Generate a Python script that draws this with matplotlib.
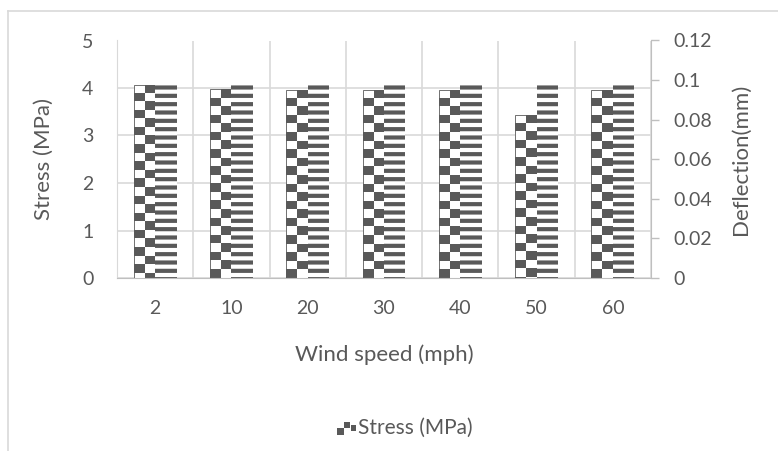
import numpy as np
import matplotlib.pyplot as plt
from matplotlib.lines import Line2D
from matplotlib.patches import Rectangle
from matplotlib.colors import ListedColormap
from matplotlib.legend_handler import HandlerBase

plt.rcParams['font.family'] = ['Lato', 'DejaVu Sans']
plt.rcParams['hatch.linewidth'] = 3.0

# данні
speeds = ['2', '10', '20', '30', '40', '50', '60']
stress = [4.07, 3.97, 3.96, 3.96, 3.96, 3.44, 3.96]
deflection = [0.0988, 0.0988, 0.0988, 0.0988, 0.0988, 0.0988, 0.0988]

dark = '#595959'
grid = '#d9d9d9'
txt = '#595959'

fig = plt.figure(figsize=(7.78, 4.51), dpi=100)
# рамка області діаграми
fig.add_artist(Line2D([8 / 778, 1], [1 - 11 / 451] * 2, color=grid, lw=1.2))
fig.add_artist(Line2D([8 / 778] * 2, [0, 1 - 11 / 451], color=grid, lw=1.2))

ax = fig.add_axes([117 / 778, 1 - 278 / 451, (651 - 117) / 778, (278 - 40.5) / 451])
ax2 = ax.twinx()

x = np.arange(len(speeds))
w = 0.28

bars = ax.bar(x - w / 2, stress, w, color='white', linewidth=0, zorder=2)
cell = 0.18
cmap = ListedColormap(['white', dark])
for b in bars:
    x0, h = b.get_x(), b.get_height()
    n = int(np.ceil(h / cell))
    checker = (np.indices((n, 2)).sum(axis=0) % 2)[::-1]
    im = ax.imshow(checker, extent=(x0, x0 + w, h - n * cell, h), origin='lower',
                   cmap=cmap, interpolation='nearest', aspect='auto', zorder=2.5)
    im.set_clip_path(b)
# тонкий контур стовпчиків
ax.bar(x - w / 2, stress, w, fill=False, edgecolor=dark, linewidth=0.6, zorder=3)

ax2.bar(x + w / 2, deflection, w, color='white', edgecolor=dark, hatch='--', linewidth=0)

ax.set_xlim(-0.5, len(speeds) - 0.5)
ax.set_ylim(0, 5)
ax2.set_ylim(0, 0.12)
ax.set_yticks(np.arange(0, 6, 1))
ax2.set_yticks(np.arange(0, 0.13, 0.02))
ax2.set_yticklabels(['0', '0.02', '0.04', '0.06', '0.08', '0.1', '0.12'])
ax.set_xticks(x)
ax.set_xticklabels(speeds)
ax.set_xticks(np.arange(-0.5, len(speeds), 1), minor=True)

ax.set_axisbelow(True)
ax.grid(axis='y', color=grid, lw=1.2)
ax.grid(axis='x', which='minor', color=grid, lw=1.2)

for a in (ax, ax2):
    for s in a.spines.values():
        s.set_visible(False)
ax.spines['bottom'].set_visible(True)
ax.spines['bottom'].set_color('#bfbfbf')
ax.spines['left'].set_visible(True)
ax.spines['left'].set_color(grid)
ax2.spines['right'].set_visible(True)
ax2.spines['right'].set_color('#bfbfbf')

ax.tick_params(axis='y', length=0, pad=17, labelsize=14, labelcolor=txt)
ax.tick_params(axis='x', which='both', length=0, pad=15.5, labelsize=14, labelcolor=txt)
ax2.tick_params(axis='y', length=6, width=1, color='#bfbfbf', pad=10, labelsize=14, labelcolor=txt)

ax.set_ylabel('Stress (MPa)', fontsize=16, color=txt)
ax.yaxis.set_label_coords(-0.118, 0.5)
ax.set_xlabel('Wind speed (mph)', fontsize=16, color=txt)
ax.xaxis.set_label_coords(0.5, -0.28)
ax2.set_ylabel('Deflection(mm)', fontsize=16, color=txt)
ax2.yaxis.set_label_coords(1.15, 0.5)


class CheckerHandler(HandlerBase):
    def create_artists(self, legend, orig, xd, yd, width, height, fontsize, trans):
        arts = []
        s = height / 2
        for i in range(2):
            for j in range(2):
                if (i + j) % 2 == 0:
                    arts.append(Rectangle((xd + i * s, yd + j * s), s, s,
                                          facecolor=dark, lw=0, transform=trans))
        arts.append(Rectangle((xd + 2 * s, yd + s * 0.6), s * 0.9, s * 0.8,
                              facecolor=dark, lw=0, transform=trans))
        return arts


proxy = Rectangle((0, 0), 1, 1)
fig.legend([proxy], ['Stress (MPa)'], handler_map={Rectangle: CheckerHandler()},
           loc='center', bbox_to_anchor=(405 / 778, 1 - 428 / 451), frameon=False,
           fontsize=15, labelcolor=txt, handlelength=0.6, handleheight=0.6,
           handletextpad=0.4)

fig.savefig('out.png', dpi=100)
